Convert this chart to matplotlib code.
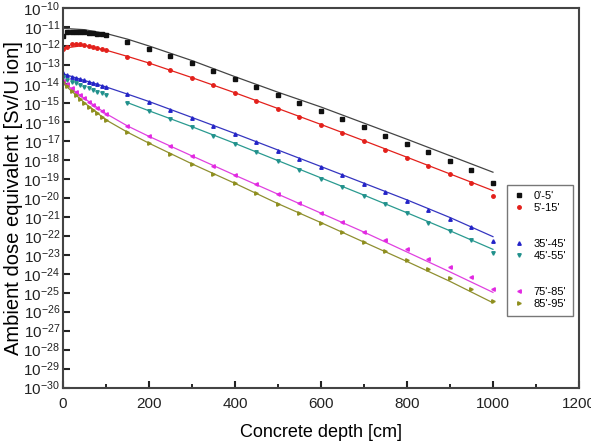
import numpy as np
import matplotlib.pyplot as plt
from matplotlib.lines import Line2D

plt.rcParams['font.family'] = ['Liberation Sans', 'DejaVu Sans']
plt.rcParams['mathtext.fontset'] = 'custom'
plt.rcParams['mathtext.rm'] = 'Liberation Sans'
plt.rcParams['mathtext.it'] = 'Liberation Sans'

# depth positions of the simulated points [cm]
depth = [0, 10, 20, 30, 40, 50, 60, 70, 80, 90, 100,
         150, 200, 250, 300, 350, 400, 450, 500, 550, 600,
         650, 700, 750, 800, 850, 900, 950, 1000]

# log10 of dose per angular bin
dose_0_5 = [-11.43, -11.25, -11.22, -11.22, -11.23, -11.25, -11.27, -11.30, -11.33, -11.37, -11.40,
            -11.78, -12.14, -12.50, -12.89, -13.28, -13.70, -14.13, -14.55, -14.97, -15.39,
            -15.82, -16.25, -16.71, -17.15, -17.59, -18.05, -18.50, -19.19]
dose_5_15 = [-12.15, -12.01, -11.90, -11.88, -11.90, -11.93, -11.97, -12.02, -12.07, -12.13, -12.19,
             -12.54, -12.89, -13.26, -13.65, -14.05, -14.46, -14.86, -15.29, -15.72, -16.15,
             -16.57, -17.01, -17.45, -17.89, -18.31, -18.75, -19.21, -19.91]
dose_35_45 = [-13.43, -13.53, -13.60, -13.67, -13.74, -13.80, -13.87, -13.94, -14.01, -14.08, -14.16,
              -14.53, -14.92, -15.34, -15.76, -16.20, -16.62, -17.06, -17.50, -17.94, -18.36,
              -18.80, -19.24, -19.70, -20.17, -20.63, -21.09, -21.55, -22.25]
dose_45_55 = [-13.62, -13.77, -13.86, -13.95, -14.04, -14.13, -14.22, -14.30, -14.39, -14.48, -14.57,
              -14.97, -15.41, -15.83, -16.25, -16.71, -17.13, -17.59, -18.06, -18.52, -18.98,
              -19.42, -19.88, -20.33, -20.81, -21.30, -21.76, -22.22, -22.92]
dose_75_85 = [-13.85, -14.00, -14.20, -14.40, -14.58, -14.75, -14.92, -15.08, -15.24, -15.39, -15.55,
              -16.20, -16.73, -17.26, -17.78, -18.29, -18.79, -19.28, -19.81, -20.27, -20.81,
              -21.28, -21.78, -22.23, -22.71, -23.20, -23.62, -24.17, -24.79]
dose_85_95 = [-13.90, -14.10, -14.35, -14.57, -14.78, -14.98, -15.18, -15.36, -15.54, -15.71, -15.88,
              -16.53, -17.11, -17.68, -18.21, -18.72, -19.23, -19.74, -20.32, -20.81, -21.30,
              -21.81, -22.31, -22.80, -23.27, -23.73, -24.24, -24.79, -25.45]

# fitted curves (log10)
fit_depth = [0, 50, 100, 150, 200, 300, 400, 500, 600, 700, 800, 900, 1000]
fit_0_5 = [-11.05, -11.12, -11.32, -11.62, -11.98, -12.75, -13.60, -14.42, -15.20, -16.05, -16.90, -17.77, -18.64]
fit_5_15 = [-12.10, -11.95, -12.20, -12.53, -12.88, -13.65, -14.45, -15.28, -16.12, -16.98, -17.85, -18.73, -19.61]
fit_35_45 = [-13.45, -13.80, -14.14, -14.52, -14.91, -15.75, -16.60, -17.47, -18.34, -19.22, -20.10, -21.03, -22.04]
fit_45_55 = [None, None, None, -14.97, -15.40, -16.24, -17.12, -18.03, -18.94, -19.85, -20.78, -21.73, -22.71]
fit_75_85 = [-13.90, -14.75, -15.55, -16.20, -16.75, -17.78, -18.80, -19.80, -20.80, -21.80, -22.85, -23.90, -24.98]
fit_85_95 = [-13.95, -14.98, -15.88, -16.53, -17.11, -18.20, -19.23, -20.30, -21.30, -22.33, -23.35, -24.40, -25.53]

labels = ["0'-5'", "5'-15'", "35'-45'", "45'-55'", "75'-85'", "85'-95'"]
point_data = [dose_0_5, dose_5_15, dose_35_45, dose_45_55, dose_75_85, dose_85_95]
fit_data = [fit_0_5, fit_5_15, fit_35_45, fit_45_55, fit_75_85, fit_85_95]
markers = ['s', 'o', '^', 'v', '<', '>']
colors = ['#111111', '#e3201b', '#2424c8', '#21918c', '#e229e2', '#8f8f1e']
line_colors = ['#444444', '#e3201b', '#3535c0', '#2a9a90', '#e040e0', '#8f8f30']

fig = plt.figure(figsize=(5.91, 4.45), dpi=100)
ax = fig.add_axes([0.1066, 0.1292, 0.873, 0.8518])

handles = []
for lab, pts, fit, mk, c, lc in zip(labels, point_data, fit_data, markers, colors, line_colors):
    fx = [x for x, v in zip(fit_depth, fit) if v is not None]
    fy = [10 ** v for v in fit if v is not None]
    ax.plot(fx, fy, '-', color=lc, linewidth=0.9)
    h, = ax.plot(depth, 10 ** np.array(pts), linestyle='none', marker=mk, color=c,
                 markersize=2.5, label=lab)
    handles.append(h)

blank = Line2D([], [], linestyle='none', label=' ')
leg_handles = [handles[0], handles[1], blank, blank, handles[2], handles[3],
               blank, blank, handles[4], handles[5]]
leg = ax.legend(handles=leg_handles, loc='lower right', bbox_to_anchor=(0.988, 0.189),
                borderaxespad=0, fontsize=8, frameon=True, fancybox=False,
                edgecolor='#555555', labelspacing=0.18, handlelength=1.0,
                handletextpad=0.8, borderpad=0.6, markerscale=1.0)
leg.get_frame().set_linewidth(1.0)

ax.set_yscale('log')
ax.set_xlim(0, 1200)
ax.set_ylim(1e-30, 1e-10)
ax.set_yticks([10.0 ** (-k) for k in range(10, 31)])
ax.set_yticklabels([r'$10^{-%d}$' % k for k in range(10, 31)])
ax.yaxis.set_minor_locator(plt.NullLocator())
ax.set_xticks(range(0, 1201, 200))
ax.set_xticks(range(100, 1200, 200), minor=True)

ax.tick_params(axis='both', which='major', direction='in', length=5, width=1.5,
               labelsize=11, colors='#222222', right=False, top=False)
ax.tick_params(axis='x', which='minor', direction='in', length=3, width=1.2, top=False)
ax.tick_params(axis='x', pad=7)
ax.tick_params(axis='y', pad=2)
for sp in ax.spines.values():
    sp.set_linewidth(1.5)
    sp.set_color('#444444')

ax.set_xlabel('Concrete depth [cm]', fontsize=13, labelpad=9)
ax.set_ylabel('Ambient dose equivalent [Sv/U ion]', fontsize=14.5, labelpad=0)

fig.savefig('out.png', dpi=100)
